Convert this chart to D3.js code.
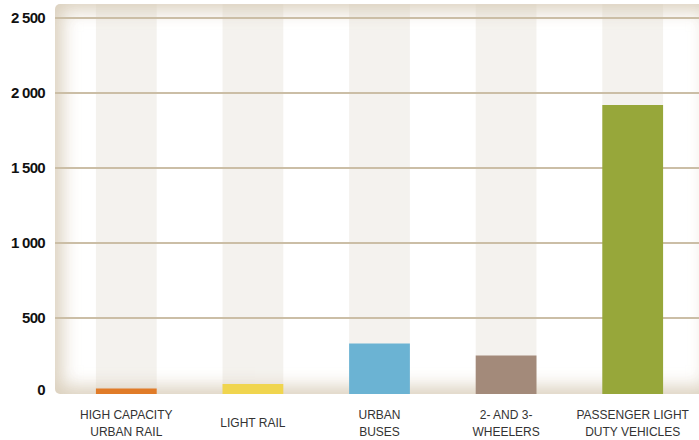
<!DOCTYPE html>
<html><head><meta charset="utf-8">
<script src="https://cdn.jsdelivr.net/npm/d3@7"></script>
<style>body{margin:0;background:#fff}svg{display:block}</style>
</head><body>
<svg id="c" width="699" height="440"></svg>
<script>
const categories = [["HIGH CAPACITY","URBAN RAIL"],["LIGHT RAIL"],["URBAN","BUSES"],["2- AND 3-","WHEELERS"],["PASSENGER LIGHT","DUTY VEHICLES"]];
const values = [30, 60, 330, 250, 1920];
const colors = ["#e07b28","#f0d54e","#6bb3d3","#a38a7a","#97a73a"];
const yTicks = [0, 500, 1000, 1500, 2000, 2500];
const yTickLabels = ["0","500","1 000","1 500","2 000","2 500"];

const svg = d3.select("#c");
const plot = {x0:55, x1:712, y0:4, y1:394};
const x = d3.scaleBand().domain(d3.range(values.length)).range([63,696]).paddingInner(0.52).paddingOuter(0.26);
const y = d3.scaleLinear().domain([0,2500]).range([393,18]);

const defs = svg.append("defs");
defs.append("clipPath").attr("id","pc").append("rect")
  .attr("x",plot.x0).attr("y",plot.y0).attr("width",plot.x1-plot.x0).attr("height",plot.y1-plot.y0).attr("rx",5);
const f = defs.append("filter").attr("id","blur").attr("x","-20%").attr("y","-20%").attr("width","140%").attr("height","140%");
f.append("feGaussianBlur").attr("stdDeviation",9);

const g = svg.append("g").attr("clip-path","url(#pc)");
g.append("rect").attr("x",plot.x0).attr("y",plot.y0).attr("width",plot.x1-plot.x0).attr("height",plot.y1-plot.y0).attr("fill","#fff");
g.selectAll("rect.col").data(values).join("rect").attr("class","col")
  .attr("x",(d,i)=>x(i)).attr("width",x.bandwidth()).attr("y",plot.y0).attr("height",plot.y1-plot.y0).attr("fill","#f4f2ee");
// vignette
g.append("rect").attr("x",plot.x0-5).attr("y",plot.y0-6).attr("width",plot.x1-plot.x0+12).attr("height",plot.y1-plot.y0+11)
  .attr("fill","none").attr("stroke","#d8ccb8").attr("stroke-width",24).attr("filter","url(#blur)").attr("opacity",0.95);
// gridlines
g.selectAll("line.grid").data(yTicks.filter(d=>d>0)).join("line").attr("class","grid")
  .attr("x1",plot.x0).attr("x2",plot.x1).attr("y1",d=>y(d)).attr("y2",d=>y(d))
  .attr("stroke","#cbbea6").attr("stroke-width",2);
// bars
g.selectAll("rect.bar").data(values).join("rect").attr("class","bar")
  .attr("x",(d,i)=>x(i)).attr("width",x.bandwidth()).attr("y",d=>y(d)).attr("height",d=>y(0)-y(d)+1)
  .attr("fill",(d,i)=>colors[i]);

// y axis labels
svg.selectAll("text.yt").data(yTicks).join("text").attr("class","yt")
  .attr("x",45).attr("y",d=>d===0 ? y(d)+2 : y(d)+5).attr("text-anchor","end")
  .attr("font-family","Liberation Sans, Arial, sans-serif").attr("font-weight","bold").attr("font-size",15)
  .attr("letter-spacing","-0.7").attr("fill","#111").attr("xml:space","preserve")
  .style("white-space","pre")
  .text((d,i)=>yTickLabels[i]);

// x labels
const xl = svg.selectAll("text.xl").data(categories).join("text").attr("class","xl")
  .attr("x",(d,i)=>x(i)+x.bandwidth()/2).attr("text-anchor","middle")
  .attr("font-family","Liberation Sans, Arial, sans-serif").attr("font-size",12).attr("fill","#333");
xl.each(function(d){
  const t=d3.select(this);
  const base = d.length===1 ? 427 : 419;
  d.forEach((s,k)=>t.append("tspan").attr("x",t.attr("x")).attr("y",base+k*17).text(s));
});
</script>
</body></html>
